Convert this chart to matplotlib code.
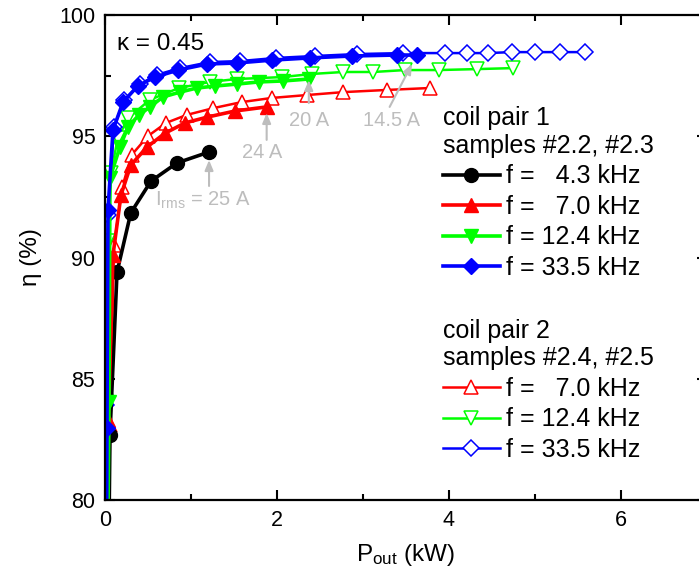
import matplotlib
matplotlib.use("Agg")
import matplotlib.pyplot as plt
from matplotlib.ticker import MultipleLocator

plt.rcParams['font.family'] = ['Liberation Sans', 'DejaVu Sans']
plt.rcParams['mathtext.default'] = 'regular'

# coil pair 1 (samples #2.2, #2.3): output power (kW) and efficiency (%)
p1_43 = [0.02, 0.058, 0.14, 0.30, 0.535, 0.837, 1.21]
e1_43 = [70.0, 82.7, 89.4, 91.84, 93.15, 93.90, 94.35]

p1_70 = [0.015, 0.04, 0.093, 0.186, 0.30, 0.49, 0.70, 0.93, 1.19, 1.51, 1.88]
e1_70 = [70.0, 83.3, 90.1, 92.58, 93.81, 94.56, 95.13, 95.55, 95.79, 96.04, 96.21]

p1_124 = [0.01, 0.047, 0.058, 0.174, 0.267, 0.395, 0.523, 0.674, 0.872, 1.07,
          1.28, 1.53, 1.79, 2.07, 2.37]
e1_124 = [70.0, 84.04, 93.28, 94.56, 95.38, 95.88, 96.21, 96.62, 96.82, 96.99,
          97.07, 97.15, 97.24, 97.28, 97.36]

p1_335 = [0.01, 0.023, 0.035, 0.093, 0.21, 0.38, 0.58, 0.85, 1.19, 1.53, 1.94,
          2.38, 2.87, 3.40, 3.63]
e1_335 = [70.0, 82.97, 91.96, 95.26, 96.41, 97.07, 97.44, 97.73, 97.98, 98.02,
          98.14, 98.23, 98.31, 98.35, 98.35]

# coil pair 2 (samples #2.4, #2.5)
p2_70 = [0.01, 0.06, 0.105, 0.20, 0.31, 0.50, 0.71, 0.95, 1.26, 1.59, 1.94,
         2.35, 2.77, 3.28, 3.78]
e2_70 = [70.0, 83.1, 90.5, 92.9, 94.23, 95.01, 95.55, 95.88, 96.16, 96.41, 96.58,
         96.70, 96.82, 96.91, 96.99]

p2_124 = [0.005, 0.012, 0.035, 0.07, 0.15, 0.27, 0.52, 0.86, 1.22, 1.53, 2.06,
          2.41, 2.77, 3.12, 3.49, 3.88, 4.33, 4.74]
e2_124 = [70.0, 84.1, 90.7, 93.5, 94.93, 95.75, 96.5, 96.99, 97.24, 97.36, 97.44,
          97.57, 97.65, 97.65, 97.73, 97.73, 97.77, 97.81]

p2_335 = [0.005, 0.012, 0.035, 0.105, 0.22, 0.41, 0.60, 0.87, 1.22, 1.57, 1.99,
          2.44, 2.93, 3.47, 3.95, 4.21, 4.45, 4.73, 5.00, 5.29, 5.58]
e2_335 = [70.0, 83.92, 91.75, 95.38, 96.49, 97.15, 97.53, 97.81, 98.06, 98.10,
          98.23, 98.31, 98.39, 98.43, 98.43, 98.43, 98.43, 98.47, 98.47, 98.47, 98.47]

labels_1 = ["f =   4.3 kHz", "f =   7.0 kHz", "f = 12.4 kHz", "f = 33.5 kHz"]
labels_2 = ["f =   7.0 kHz", "f = 12.4 kHz", "f = 33.5 kHz"]

RED, GREEN, BLUE = '#ff0000', '#00ff00', '#0000ff'
GRAY = '#bdbdbd'

fig = plt.figure(figsize=(6.99, 5.77), dpi=100)
ax = fig.add_axes([0.1502, 0.1334, 0.8612, 0.8406])

# open markers (coil pair 2) drawn first, filled ones on top
open_kw = dict(lw=1.8, ms=10, mfc='white', mew=1.1)
h2 = [
    ax.plot(p2_70, e2_70, color=RED, marker='^', **open_kw)[0],
    ax.plot(p2_124, e2_124, color=GREEN, marker='v', **open_kw)[0],
    ax.plot(p2_335, e2_335, color=BLUE, marker='D', **dict(open_kw, ms=8.5))[0],
]
fill_kw = dict(lw=2.6)
h1 = [
    ax.plot(p1_43, e1_43, color='black', marker='o', ms=10, **fill_kw)[0],
    ax.plot(p1_70, e1_70, color=RED, marker='^', ms=10.5, **fill_kw)[0],
    ax.plot(p1_124, e1_124, color=GREEN, marker='v', ms=10.5, **fill_kw)[0],
    ax.plot(p1_335, e1_335, color=BLUE, marker='D', ms=8.5, **fill_kw)[0],
]

ax.set_xlim(0, 7)
ax.set_ylim(80, 100)
ax.xaxis.set_major_locator(MultipleLocator(2))
ax.xaxis.set_minor_locator(MultipleLocator(1))
ax.yaxis.set_major_locator(MultipleLocator(5))
ax.yaxis.set_minor_locator(MultipleLocator(2.5))
ax.tick_params(which='both', direction='in', top=True, right=True, width=1.5,
               labelsize=15.5, pad=7)
ax.tick_params(which='major', length=7.5)
ax.tick_params(which='minor', length=4)
for s in ax.spines.values():
    s.set_linewidth(1.6)

ax.set_xlabel(r'P$_{out}$ (kW)', fontsize=17.5, labelpad=8)
ax.set_ylabel('η (%)', fontsize=17.5, labelpad=12)

ax.text(0.02, 0.94, 'κ = 0.45', transform=ax.transAxes, fontsize=17.5,
        ha='left', va='center')

# current annotations
arrow_kw = dict(arrowstyle='-|>,head_length=0.6,head_width=0.25', color=GRAY,
                lw=1.5, shrinkA=0, shrinkB=0)
ax.annotate('', xy=(1.21, 94.02), xytext=(1.21, 92.95), arrowprops=arrow_kw)
ax.text(1.14, 92.37, r'I$_{rms}$ = 25 A', color=GRAY, fontsize=14.5,
        ha='center', va='center')
ax.annotate('', xy=(1.88, 95.96), xytext=(1.88, 94.85), arrowprops=arrow_kw)
ax.text(1.83, 94.31, '24 A', color=GRAY, fontsize=14.5, ha='center', va='center')
ax.annotate('', xy=(2.37, 97.32), xytext=(2.37, 96.37), arrowprops=arrow_kw)
ax.text(2.37, 95.63, '20 A', color=GRAY, fontsize=14.5, ha='center', va='center')
ax.annotate('', xy=(3.57, 97.98), xytext=(3.31, 96.21), arrowprops=arrow_kw)
ax.text(3.33, 95.63, '14.5 A', color=GRAY, fontsize=14.5, ha='center', va='center')

leg_kw = dict(loc='upper left', frameon=False, fontsize=18, title_fontsize=18,
              alignment='left', handlelength=2.3, handletextpad=0.25,
              labelspacing=0.26, borderpad=0, borderaxespad=0, numpoints=1)
leg1 = ax.legend(h1, labels_1, title='coil pair 1\nsamples #2.2, #2.3',
                 bbox_to_anchor=(0.561, 0.812), **leg_kw)
ax.add_artist(leg1)
ax.legend(h2, labels_2, title='coil pair 2\nsamples #2.4, #2.5',
          bbox_to_anchor=(0.561, 0.374), **leg_kw)

fig.savefig('out.png', dpi=100)
